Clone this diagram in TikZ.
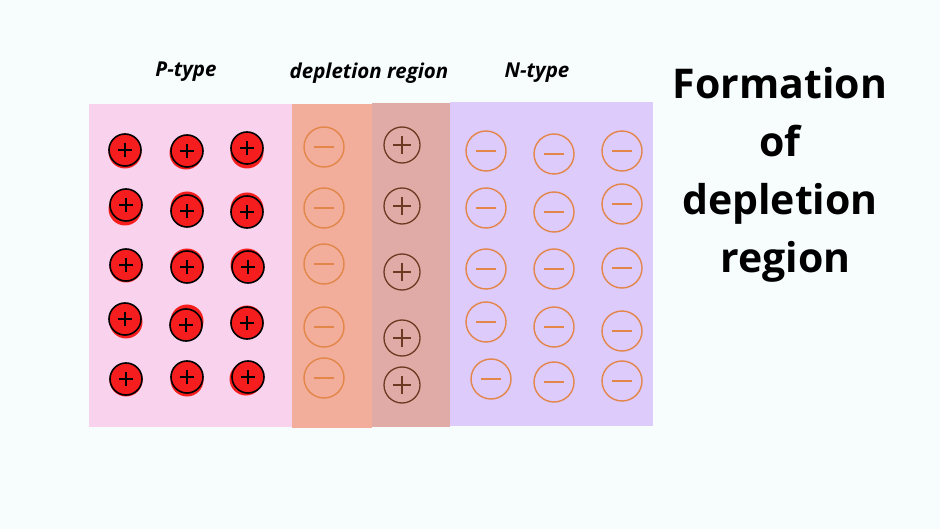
\documentclass[tikz,border=0pt]{standalone}
\usepackage{fontspec}
\setmainfont{Open Sans}
\definecolor{bgc}{HTML}{F7FDFD}
\definecolor{pcol}{HTML}{F9D3EE}
\definecolor{dlcol}{HTML}{F2AE9A}
\definecolor{drcol}{HTML}{E0ABA6}
\definecolor{ncol}{HTML}{DDCBFC}
\definecolor{redc}{HTML}{F51D1D}
\definecolor{negc}{HTML}{E3864A}
\definecolor{brc}{HTML}{6A3A22}
\tikzset{
  title/.style={font=\bfseries\itshape\fontsize{20.5}{24}\selectfont, inner sep=0},
  pion/.style={circle, draw=black, line width=1.6pt, fill=redc, minimum size=32pt, inner sep=0,
    path picture={\draw[black, line width=1.3pt]
      ([xshift=-7pt]path picture bounding box.center) -- ([xshift=7pt]path picture bounding box.center)
      ([yshift=-7pt]path picture bounding box.center) -- ([yshift=7pt]path picture bounding box.center);}},
  nion/.style={circle, draw=negc, line width=1.4pt, minimum size=40pt, inner sep=0,
    path picture={\draw[negc, line width=1.4pt]
      ([xshift=-10pt]path picture bounding box.center) -- ([xshift=10pt]path picture bounding box.center);}},
  bion/.style={circle, draw=brc, line width=1.3pt, minimum size=36pt, inner sep=0,
    path picture={\draw[brc, line width=1.2pt]
      ([xshift=-9pt]path picture bounding box.center) -- ([xshift=9pt]path picture bounding box.center)
      ([yshift=-9pt]path picture bounding box.center) -- ([yshift=9pt]path picture bounding box.center);}},
}
\newcommand{\redion}[5]{%
  \fill[redc] (#2+#4,#3+#5) circle (16.5pt);
  \node[pion] (#1) at (#2,#3) {};}
\begin{document}
\begin{tikzpicture}[x=1pt,y=-1pt]
\useasboundingbox (0,0) rectangle (940,529);
\fill[bgc] (0,0) rectangle (940,529);
% regions
\fill[pcol] (89,104) rectangle (292,427);
\fill[ncol] (450,102) rectangle (653,426);
\fill[dlcol] (292,104) rectangle (372,428);
\fill[drcol] (372,103) rectangle (450,427);
% titles
\node[title] (tp) at (186,72) {P-type};
\node[title] (td) at (369,73) {depletion region};
\node[title] (tn) at (537,73) {N-type};
\node[font=\bfseries\fontsize{41}{58}\selectfont, align=center, inner sep=0] (tf) at (780,175)
  {Formation\\of\\depletion\\\ region};
% P-type positive ions
\redion{p11}{125}{150}{0}{2}
\redion{p12}{187}{151}{-1}{2}
\redion{p13}{247}{148}{0}{4}
\redion{p21}{126}{205}{-1}{4}
\redion{p22}{187}{211}{0}{-3}
\redion{p23}{247}{212}{0}{-3}
\redion{p31}{126}{265}{0}{1}
\redion{p32}{187}{267}{0}{-2}
\redion{p33}{248}{267}{-1}{-2}
\redion{p41}{125}{319}{1}{3}
\redion{p42}{186}{325}{1}{-4}
\redion{p43}{247}{323}{0}{-1}
\redion{p51}{126}{379}{0}{1}
\redion{p52}{187}{377}{0}{3}
\redion{p53}{248}{377}{-2}{2}
% depletion negative ions
\node[nion] (dl1) at (324,147) {};
\node[nion] (dl2) at (324,208) {};
\node[nion] (dl3) at (324,264) {};
\node[nion] (dl4) at (324,327) {};
\node[nion] (dl5) at (324,378) {};
% depletion positive ions
\node[bion] (dr1) at (402,145) {};
\node[bion] (dr2) at (402,206) {};
\node[bion] (dr3) at (402,272) {};
\node[bion] (dr4) at (402,338) {};
\node[bion] (dr5) at (402,385) {};
% N-type negative ions
\node[nion] (n11) at (486,151) {};
\node[nion] (n12) at (554,154) {};
\node[nion] (n13) at (622,151) {};
\node[nion] (n21) at (486,208) {};
\node[nion] (n22) at (554,212) {};
\node[nion] (n23) at (622,204) {};
\node[nion] (n31) at (486,269) {};
\node[nion] (n32) at (554,269) {};
\node[nion] (n33) at (622,268) {};
\node[nion] (n41) at (486,322) {};
\node[nion] (n42) at (554,327) {};
\node[nion] (n43) at (622,331) {};
\node[nion] (n51) at (491,379) {};
\node[nion] (n52) at (554,382) {};
\node[nion] (n53) at (622,381) {};
\end{tikzpicture}
\end{document}
